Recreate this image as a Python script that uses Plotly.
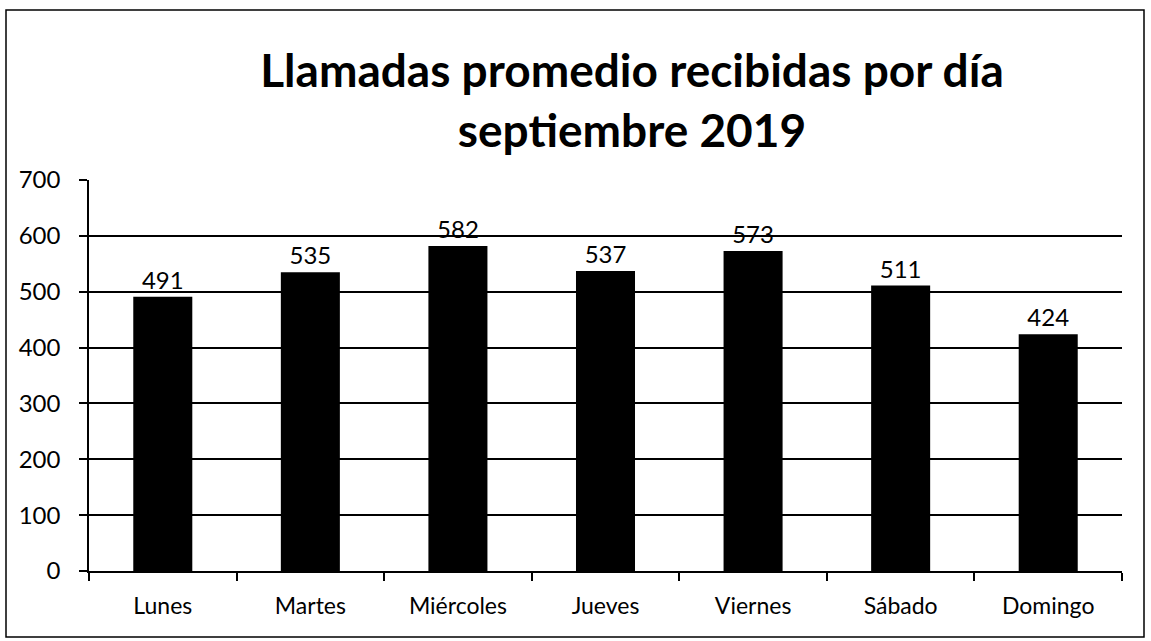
import plotly.graph_objects as go

dias = ["Lunes", "Martes", "Miércoles", "Jueves", "Viernes", "Sábado", "Domingo"]
llamadas = [491, 535, 582, 537, 573, 511, 424]
y_ticks = [0, 100, 200, 300, 400, 500, 600, 700]

W, H = 1151, 641
L, R, T, B = 89, 29, 180, 70
pw, ph = W - L - R, H - T - B
FONT = "Lato, Open Sans, sans-serif"

fig = go.Figure(go.Bar(
    x=dias, y=llamadas, width=0.4,
    marker=dict(color="black", line=dict(width=0)),
    text=[str(v) for v in llamadas], textposition="outside",
    textfont=dict(family=FONT, size=24, color="black"),
    cliponaxis=False,
))

def px2paper_x(px):
    return (px - L) / pw

def px2paper_y(py):
    return (H - B - py) / ph

fig.add_shape(type="rect", xref="paper", yref="paper",
              x0=px2paper_x(6), x1=px2paper_x(1144),
              y0=px2paper_y(637), y1=px2paper_y(10),
              line=dict(color="black", width=1.5), layer="below")

fig.update_layout(
    width=W, height=H,
    margin=dict(l=L, r=R, t=T, b=B),
    paper_bgcolor="white", plot_bgcolor="white",
    showlegend=False,
    title=dict(text="<b>Llamadas promedio recibidas por día<br>septiembre 2019</b>",
               x=632 / W, xanchor="center", y=1 - 87 / H, yanchor="middle",
               font=dict(family=FONT, size=46, color="black")),
    font=dict(family=FONT, color="black"),
    xaxis=dict(showline=True, linecolor="black", linewidth=1.5,
               ticks="outside", tickson="boundaries", ticklen=8, tickcolor="black", tickwidth=1.5,
               ticklabelstandoff=14,
               tickfont=dict(size=23, color="black"), showgrid=False),
    yaxis=dict(range=[0, 700], tickvals=y_ticks, showline=True, linecolor="black", linewidth=1.5,
               ticks="outside", ticklen=8, tickcolor="black", tickwidth=1.5,
               ticklabelstandoff=14,
               showgrid=True, gridcolor="black", gridwidth=1.5, zeroline=False,
               tickfont=dict(size=24, color="black")),
)

fig.write_html("out.html", config={"displayModeBar": False},
               post_script="document.body.style.margin='0';")
